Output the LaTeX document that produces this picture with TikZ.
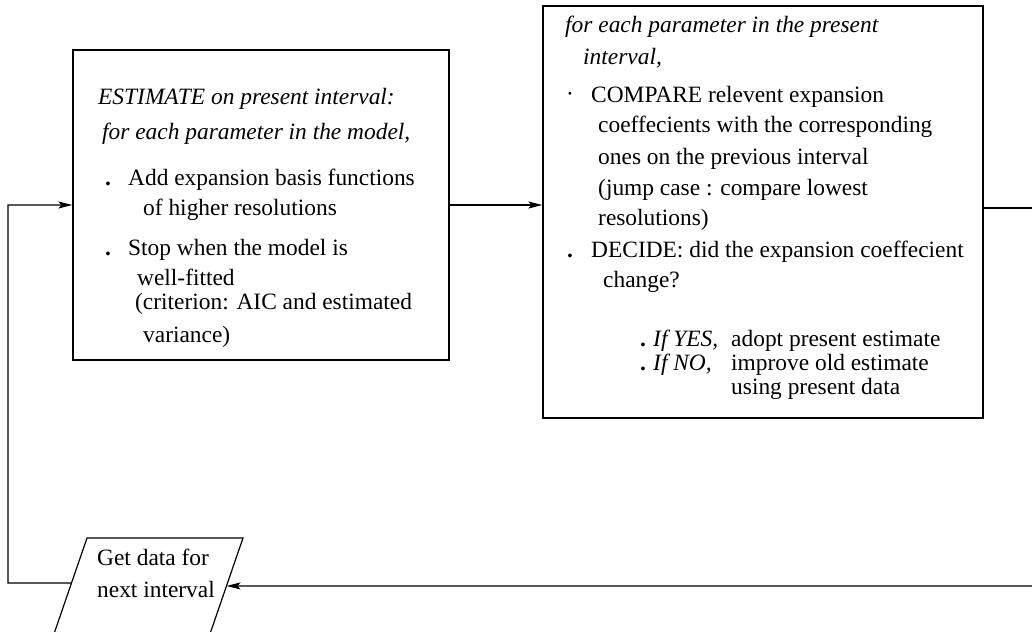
\documentclass[tikz,border=0pt]{standalone}
\usepackage{fontspec}
\setmainfont{Liberation Serif}
\usetikzlibrary{arrows.meta,calc}
\begin{document}
\begin{tikzpicture}[x=1pt,y=-1pt,
  box/.style={draw,line width=1.2pt,inner sep=0pt},
  txt/.style={anchor=mid west,inner sep=0pt,font=\fontsize{23.4}{28}\selectfont},
  itxt/.style={anchor=mid west,inner sep=0pt,font=\fontsize{23.4}{28}\selectfont\itshape},
  conn/.style={line width=1.2pt},
  arr/.style={conn,-{Stealth[length=14pt,width=7pt,inset=3pt]}}]
\useasboundingbox (0,0) rectangle (1032,631);
\clip (0,0) rectangle (1032,631);
\fill[white] (0,0) rectangle (1032,631);
% boxes
\node[box,minimum width=376pt,minimum height=310pt] (est) at (261,205) {};
\node[box,minimum width=440pt,minimum height=412pt] (cmp) at (763,212) {};
% box 1 text
\node[itxt] (e1) at (98,102) {ESTIMATE on present interval:};
\node[itxt] (e2) at (102,137) {for each parameter in the model,};
\node[txt] (eb1) at (105,183) {\textbf{.}};
\node[txt] (e3) at (128,183) {Add expansion basis functions};
\node[txt] (e4) at (143,213) {of higher resolutions};
\node[txt] (eb2) at (105,253) {\textbf{.}};
\node[txt] (e5) at (128,253) {Stop when the model is};
\node[txt] (e6) at (137,283) {well-fitted};
\node[txt] (e7) at (135,307) {(criterion: AIC and estimated};
\node[txt] (e8) at (143,340) {variance)};
% box 2 text
\node[itxt] (c1) at (565,30) {for each parameter in the present};
\node[itxt] (c2) at (583,62) {interval,};
\node[txt] (cb1) at (566,99) {·};
\node[txt] (c3) at (591,100) {COMPARE relevent expansion};
\node[txt] (c4) at (598,130) {coeffecients with the corresponding};
\node[txt] (c5) at (598,162) {ones on the previous interval};
\node[txt] (c6) at (598,193) {(jump case : compare lowest};
\node[txt] (c7) at (598,223) {resolutions)};
\node[txt] (cb2) at (567,255) {\textbf{.}};
\node[txt] (c8) at (591,255) {DECIDE: did the expansion coeffecient};
\node[txt] (c9) at (603,285) {change?};
\node[txt] (cb3) at (640,344) {\textbf{.}};
\node[itxt] (c10) at (653,344) {If YES,};
\node[txt] (c11) at (731,344) {adopt present estimate};
\node[txt] (cb4) at (640,368) {\textbf{.}};
\node[itxt] (c12) at (653,368) {If NO,};
\node[txt] (c13) at (731,368) {improve old estimate};
\node[txt] (c14) at (731,392) {using present data};
% parallelogram
\coordinate (ptl) at (87,538);
\coordinate (ptr) at (243,538);
\coordinate (pbr) at (201,660);
\coordinate (pbl) at (45,660);
\draw[conn] (ptl) -- (ptr) -- (pbr) -- (pbl) -- cycle;
\node[txt] (g1) at (97,563) {Get data for};
\node[txt] (g2) at (97,595) {next interval};
\coordinate (lin) at ($(ptl)!0.369!(pbl)$);
\coordinate (rin) at ($(ptr)!0.393!(pbr)$);
% connectors
\coordinate (lb) at (8,583);
\coordinate (lt) at (8,205);
\coordinate (ro) at (1032,208);
\coordinate (ri) at (1032,586);
\draw[arr] (lin) -- (lb) -- (lt) -- (est.west);
\draw[arr] (est.east) -- (est.east -| cmp.west);
\draw[conn] (cmp.east |- ro) -- (ro);
\draw[arr] (ri) -- (rin);
\end{tikzpicture}
\end{document}
